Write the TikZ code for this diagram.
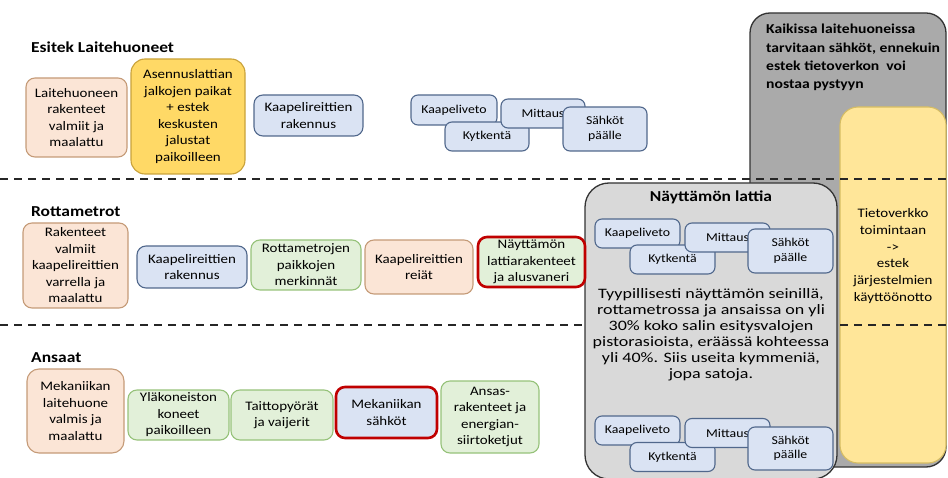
\documentclass[tikz,border=0pt]{standalone}
\usepackage{fontspec}
\setmainfont{Carlito}[FakeStretch=1.15]
\newfontfamily\widefont{Carlito}[FakeStretch=1.25]

\definecolor{orangefill}{HTML}{FBE5D6}
\definecolor{orangeline}{HTML}{C59B78}
\definecolor{goldfill}{HTML}{FFD966}
\definecolor{goldline}{HTML}{C9A23A}
\definecolor{bluefill}{HTML}{DAE3F3}
\definecolor{blueline}{HTML}{51688C}
\definecolor{greenfill}{HTML}{E2F0D9}
\definecolor{greenline}{HTML}{96C27A}
\definecolor{redline}{HTML}{C00000}
\definecolor{darkpanel}{HTML}{AAAAAA}
\definecolor{lightpanel}{HTML}{D9D9D9}
\definecolor{panelline}{HTML}{333333}
\definecolor{netfill}{HTML}{FFE699}
\definecolor{netline}{HTML}{D6BD63}

\tikzset{
  box/.style={draw, rounded corners=9pt, line width=1.1pt, align=center,
    inner sep=2pt, font=\fontsize{13}{16.5}\selectfont},
  orangebox/.style={box, fill=orangefill, draw=orangeline},
  goldbox/.style={box, fill=goldfill, draw=goldline},
  bluebox/.style={box, fill=bluefill, draw=blueline},
  greenbox/.style={box, fill=greenfill, draw=greenline},
  redrim/.style={draw=redline, line width=2.6pt},
  task/.style={box, rounded corners=7pt, fill=bluefill, draw=blueline,
    font=\fontsize{12}{14.5}\selectfont},
  heading/.style={anchor=west, inner sep=0pt,
    font=\fontsize{15.2}{18}\selectfont\bfseries},
  panel/.style={draw=panelline, line width=1.3pt},
  sepline/.style={draw=black!85, line width=1.5pt, dash pattern=on 8pt off 6pt},
}

\begin{document}
\begin{tikzpicture}[x=1pt, y=-1pt]
\useasboundingbox (0,0) rectangle (948,478);

% ---- right-hand panels (behind the separators) ----
\node[panel, fill=darkpanel, rounded corners=20pt, minimum width=196pt,
  minimum height=454pt] (power) at (848,240) {};
\node[anchor=north west, inner sep=0pt, align=left,
  font=\fontsize{13.6}{18.3}\selectfont\bfseries] (powernote) at (766,24)
  {Kaikissa laitehuoneissa\\tarvitaan sähköt, ennekuin\\estek tietoverkon~ voi\\nostaa pystyyn};
\node[draw=netline, fill=netfill, line width=1.1pt, rounded corners=18pt,
  minimum width=106pt, minimum height=356pt] (net) at (893,285) {};
\node[align=center, inner sep=0pt, font=\fontsize{13}{16.8}\selectfont]
  (netnote) at (893,256)
  {Tietoverkko\\toimintaan\\->\\estek\\järjestelmien\\käyttöönotto};

% ---- row separators ----
\coordinate (s1l) at (0,179);   \coordinate (s1r) at (948,179);
\coordinate (s2l) at (0,325);   \coordinate (s2r) at (948,325);
\draw[sepline] (s1l) -- (s1r);
\draw[sepline] (s2l) -- (s2r);

% ---- stage floor panel ----
\node[panel, fill=lightpanel, rounded corners=24pt, minimum width=252pt,
  minimum height=296pt] (floor) at (711,331) {};
\node[inner sep=0pt, font=\fontsize{15.2}{18}\selectfont\bfseries]
  (floortitle) at (711,197) {Näyttämön lattia};
\node[task, minimum width=85pt, minimum height=29pt] (fk1) at (637.5,233.5) {Kaapeliveto};
\node[task, minimum width=85pt, minimum height=29pt] (fk2) at (672.5,259.5) {Kytkentä};
\node[task, minimum width=85pt, minimum height=29pt] (fk3) at (727.5,237.5) {Mittaus};
\node[task, minimum width=85pt, minimum height=44pt] (fk4) at (790.5,251) {Sähköt\\päälle};
\node[align=center, inner sep=0pt, font=\widefont\fontsize{14.4}{16}\selectfont]
  (floornote) at (711,335)
  {Tyypillisesti näyttämön seinillä,\\rottametrossa ja ansaissa on yli\\30\% koko salin esitysvalojen\\pistorasioista, eräässä kohteessa\\yli 40\%. Siis useita kymmeniä,\\jopa satoja.};
\node[task, minimum width=85pt, minimum height=29pt] (fb1) at (637.5,430.5) {Kaapeliveto};
\node[task, minimum width=85pt, minimum height=29pt] (fb2) at (672.5,457) {Kytkentä};
\node[task, minimum width=85pt, minimum height=29pt] (fb3) at (727.5,433) {Mittaus};
\node[task, minimum width=85pt, minimum height=43pt] (fb4) at (790.5,448.5) {Sähköt\\päälle};

% ---- row 1: equipment rooms ----
\node[heading] (h1) at (31,47) {Esitek Laitehuoneet};
\node[orangebox, minimum width=101pt, minimum height=79pt] (a1) at (76.5,117.5)
  {Laitehuoneen\\rakenteet\\valmiit ja\\maalattu};
\node[goldbox, rounded corners=14pt, minimum width=114pt, minimum height=115pt] (a2) at (188,116.5)
  {Asennuslattian\\jalkojen paikat\\+ estek\\keskusten\\jalustat\\paikoilleen};
\node[bluebox, minimum width=109pt, minimum height=41pt] (a3) at (308.5,115.5)
  {Kaapelireittien\\rakennus};
\node[task, minimum width=86pt, minimum height=30pt] (ak1) at (454,110) {Kaapeliveto};
\node[task, minimum width=84pt, minimum height=29pt] (ak2) at (487,136.5) {Kytkentä};
\node[task, minimum width=84pt, minimum height=29pt] (ak3) at (543,113.5) {Mittaus};
\node[task, minimum width=84pt, minimum height=44pt] (ak4) at (605,129) {Sähköt\\päälle};

% ---- row 2: rat runs ----
\node[heading] (h2) at (31,212) {Rottametrot};
\node[orangebox, minimum width=105pt, minimum height=85pt] (b1) at (75.5,265.5)
  {Rakenteet\\valmiit\\kaapelireittien\\varrella ja\\maalattu};
\node[bluebox, minimum width=110pt, minimum height=42pt] (b2) at (192,267)
  {Kaapelireittien\\rakennus};
\node[greenbox, minimum width=110pt, minimum height=50pt] (b3) at (306,265)
  {Rottametrojen\\paikkojen\\merkinnät};
\node[orangebox, minimum width=108pt, minimum height=54pt] (b4) at (419,267)
  {Kaapelireittien\\reiät};
\node[greenbox, redrim, minimum width=107pt, minimum height=50pt] (b5) at (531.5,262)
  {Näyttämön\\lattiarakenteet\\ja alusvaneri};

% ---- row 3: fly bars ----
\node[heading] (h3) at (31,358) {Ansaat};
\node[orangebox, rounded corners=12pt, minimum width=97pt, minimum height=84pt] (c1) at (75.5,411)
  {Mekaniikan\\laitehuone\\valmis ja\\maalattu};
\node[greenbox, minimum width=101pt, minimum height=50pt] (c2) at (178.5,415)
  {Yläkoneiston\\koneet\\paikoilleen};
\node[greenbox, minimum width=102pt, minimum height=50pt] (c3) at (282,415)
  {Taittopyörät\\ja vaijerit};
\node[bluebox, redrim, minimum width=101pt, minimum height=51pt] (c4) at (386.5,412.5)
  {Mekaniikan\\sähköt};
\node[greenbox, minimum width=98pt, minimum height=72pt] (c5) at (490,417)
  {Ansas-\\rakenteet ja\\energian-\\siirtoketjut};
\end{tikzpicture}
\end{document}
